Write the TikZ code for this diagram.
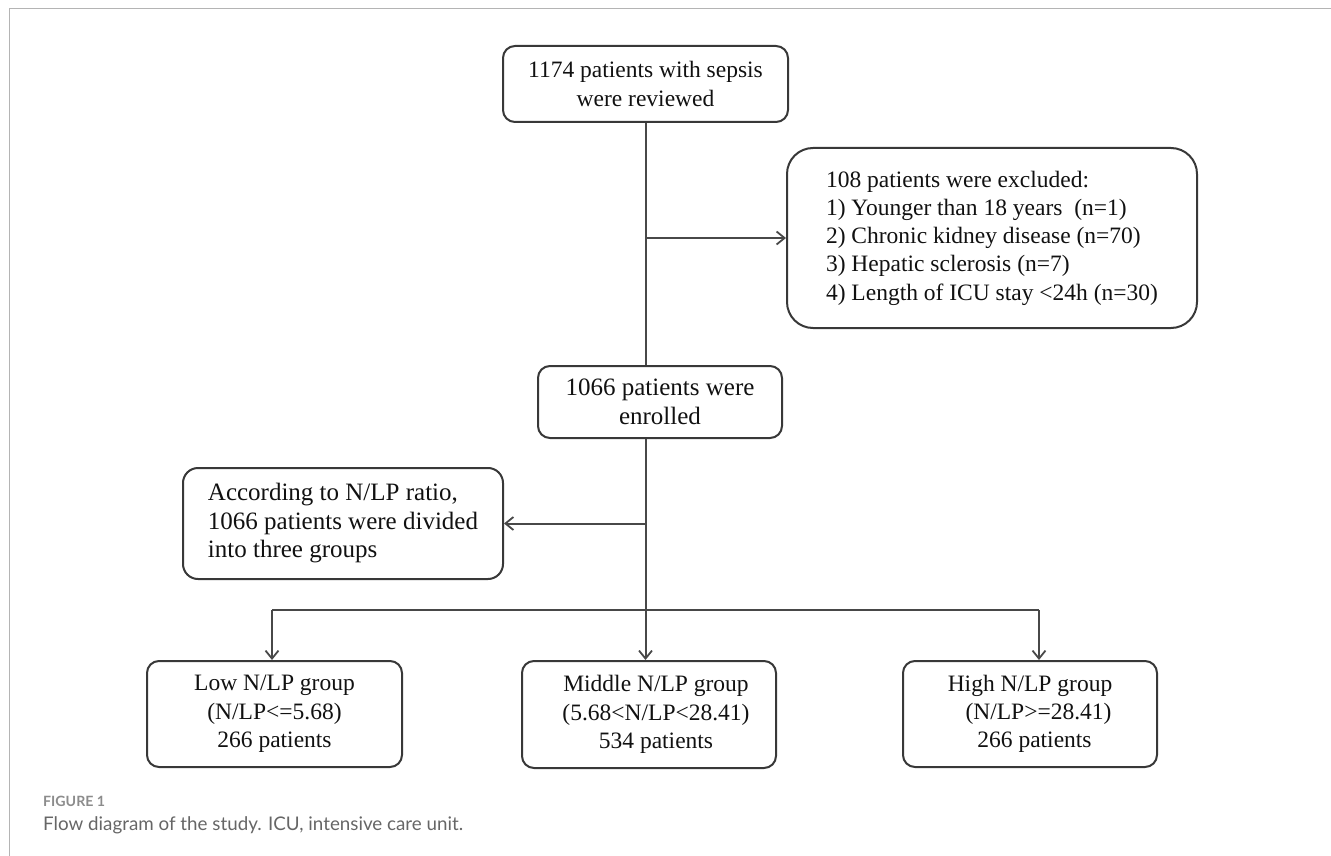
\documentclass[tikz,border=0pt]{standalone}
\usepackage{fontspec}
\usepackage{graphicx}
\setmainfont{Liberation Serif}
\newfontfamily\capfont{Lato}
\usetikzlibrary{arrows.meta}
\definecolor{boxline}{HTML}{383838}
\definecolor{connc}{HTML}{484848}
\definecolor{framecol}{HTML}{B4B4B4}
\definecolor{txt}{HTML}{111111}
\definecolor{capgray}{HTML}{666666}
\definecolor{figgray}{HTML}{8C8C8C}
\begin{document}
\begin{tikzpicture}[x=1pt,y=-1pt,
  box/.style={draw=boxline, line width=2pt, rounded corners=12pt, inner sep=0pt, text=txt,
    font=\fontsize{23.5}{28.3}\selectfont, align=center},
  wide/.style={font=\fontsize{25}{28.5}\selectfont},
  conn/.style={draw=connc, line width=2pt},
  arr/.style={conn, -{Straight Barb[length=8pt,width=13pt,line width=1.8pt]}}]
\useasboundingbox (0,0) rectangle (1331,856);
\draw[framecol, line width=1.8pt] (9.5,856) -- (9.5,8.5) -- (1331,8.5);

\node[box, minimum width=285pt, minimum height=76pt] (b1) at (645.5,84) {1174 patients with sepsis\\were reviewed};
\node[box, rounded corners=26pt, minimum width=410pt, minimum height=180pt, align=left] (b2) at (992,238)
  {108 patients were excluded:\\1) Younger than 18 years~~(n=1)\\2) Chronic kidney disease (n=70)\\3) Hepatic sclerosis (n=7)\\4) Length of ICU stay <24h (n=30)};
\node[box, wide, minimum width=244pt, minimum height=72pt] (b3) at (660,402) {1066 patients were\\enrolled};
\node[box, wide, rounded corners=15pt, minimum width=320pt, minimum height=111pt, align=left] (b4) at (343,523.5)
  {According to N/LP ratio,\\1066 patients were divided\\into three groups};
\node[box, minimum width=255pt, minimum height=106pt] (b5) at (274.5,714) {Low N/LP group\\(N/LP<=5.68)\\266 patients};
\node[box, minimum width=254pt, minimum height=107pt] (b6) at (649,714.5)
  {\hspace*{14pt}Middle N/LP group\\\hspace*{14pt}(5.68<N/LP<28.41)\\\hspace*{14pt}534 patients};
\node[box, minimum width=254pt, minimum height=106pt] (b7) at (1030,714)
  {High N/LP group\\\hspace*{17pt}(N/LP>=28.41)\\\hspace*{9pt}266 patients};

\coordinate (j1) at (b1.south |- b2.west);
\draw[conn] (b1.south) -- (b1.south |- b3.north);
\draw[arr] (j1) -- (b2.west);
\coordinate (t3) at (b1.south |- b3.south);
\coordinate (j2) at (t3 |- b4.east);
\draw[arr] (t3) -- (t3 |- b6.north);
\draw[arr] (j2) -- (b4.east);
\coordinate (bl) at (272,610);
\coordinate (br) at (1039,610);
\draw[conn] (bl) -- (br);
\draw[arr] (bl) -- (bl |- b5.north);
\draw[arr] (br) -- (br |- b7.north);

\node[anchor=base west, inner sep=0pt, font=\capfont\bfseries\fontsize{17}{20}\selectfont, text=figgray] (fig) at (43,806) {\resizebox{62pt}{!}{FIGURE 1}};
\node[anchor=base west, inner sep=0pt, font=\capfont\fontsize{18.8}{22}\selectfont, text=capgray] (cap) at (43,830) {\resizebox{420pt}{!}{Flow diagram of the study. ICU, intensive care unit.}};
\end{tikzpicture}
\end{document}
